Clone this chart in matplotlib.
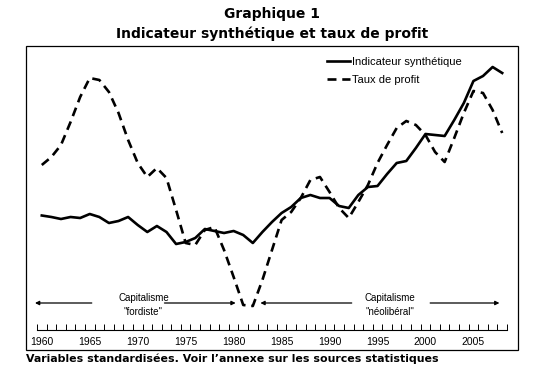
import numpy as np
import matplotlib
matplotlib.use("Agg")
import matplotlib.pyplot as plt
from matplotlib.patches import Rectangle

years = np.arange(1960, 2009)

# standardised values
indicateur = [-0.31, -0.34, -0.38, -0.34, -0.36, -0.28, -0.34, -0.46, -0.42, -0.34,
              -0.50, -0.64, -0.52, -0.64, -0.88, -0.84, -0.76, -0.58, -0.62, -0.66,
              -0.62, -0.70, -0.86, -0.64, -0.44, -0.26, -0.14, 0.04, 0.10, 0.04,
              0.04, -0.12, -0.16, 0.10, 0.26, 0.28, 0.52, 0.74, 0.78, 1.04,
              1.32, 1.30, 1.28, 1.60, 1.94, 2.38, 2.48, 2.66, 2.54]
taux_profit = [0.70, 0.86, 1.10, 1.56, 2.06, 2.44, 2.40, 2.16, 1.74, 1.20,
               0.74, 0.46, 0.64, 0.44, -0.20, -0.86, -0.90, -0.60, -0.54, -1.00,
               -1.54, -2.10, -2.12, -1.60, -1.00, -0.40, -0.24, 0.04, 0.40, 0.46,
               0.16, -0.16, -0.36, -0.04, 0.30, 0.74, 1.10, 1.44, 1.58, 1.50,
               1.30, 0.96, 0.76, 1.24, 1.74, 2.18, 2.14, 1.80, 1.34]
tick_years = [1960, 1965, 1970, 1975, 1980, 1985, 1990, 1995, 2000, 2005]

W, H = 541, 378
fig = plt.figure(figsize=(W / 100, H / 100), dpi=100)

# outer frame
fig.patches.append(Rectangle((26 / W, (H - 350) / H), 492 / W, 304 / H,
                             transform=fig.transFigure, fill=False,
                             edgecolor="black", linewidth=0.9))

fig.text(272 / W, 1 - 14 / H, "Graphique 1", ha="center", va="center",
         fontsize=10, fontweight="bold", family="DejaVu Sans")
fig.text(272 / W, 1 - 34 / H, "Indicateur synthétique et taux de profit",
         ha="center", va="center", fontsize=10, fontweight="bold",
         family="DejaVu Sans")
fig.text(26 / W, 1 - 359 / H,
         "Variables standardisées. Voir l’annexe sur les sources statistiques",
         ha="left", va="center", fontsize=7.9, fontweight="bold",
         family="DejaVu Sans")

ax = fig.add_axes([37 / W, (H - 330) / H, 470 / W, 280 / H])
ax.plot(years, indicateur, color="black", linewidth=1.9,
        label="Indicateur synthétique", solid_joinstyle="round")
ax.plot(years, taux_profit, color="black", linewidth=1.9,
        dashes=(3.4, 2.2), label="Taux de profit")

ax.set_xlim(1959.5, 2008.5)
ax.set_ylim(-2.6, 3.0)
for s in ["top", "left", "right"]:
    ax.spines[s].set_visible(False)
ax.spines["bottom"].set_linewidth(0.8)
ax.set_yticks([])
ax.set_xticks(tick_years)
ax.set_xticklabels([str(y) for y in tick_years], family="Liberation Sans",
                   fontsize=7.5)
ax.tick_params(axis="x", which="major", length=0, pad=5)
ax.set_xticks(np.arange(1959.5, 2009.0, 1.0), minor=True)
ax.tick_params(axis="x", which="minor", direction="in", length=4, width=0.7)

# periods
arr_y = -2.06
kw = dict(arrowstyle="-|>", color="black", lw=0.9, mutation_scale=6)
for head, tail in [(1959.0, 1965.5), (1980.5, 1972.5),
                   (1982.5, 1992.6), (2008.0, 2000.2)]:
    ax.annotate("", xy=(head, arr_y), xytext=(tail, arr_y), arrowprops=kw,
                annotation_clip=False)
ax.text(1970.6, -1.96, "Capitalisme", ha="center", va="center",
        family="Liberation Sans", fontsize=7)
ax.text(1970.6, -2.24, "\"fordiste\"", ha="center", va="center",
        family="Liberation Sans", fontsize=7)
ax.text(1996.3, -1.96, "Capitalisme", ha="center", va="center",
        family="Liberation Sans", fontsize=7)
ax.text(1996.3, -2.24, "\"néolibéral\"", ha="center", va="center",
        family="Liberation Sans", fontsize=7)

ax.legend(loc="upper left", bbox_to_anchor=(321 / W, 1 - 51 / H),
          bbox_transform=fig.transFigure, frameon=False, borderpad=0,
          handlelength=2.1, handletextpad=0.15, labelspacing=0.75,
          prop={"family": "Liberation Sans", "size": 8.0})

fig.savefig("out.png", dpi=100)
